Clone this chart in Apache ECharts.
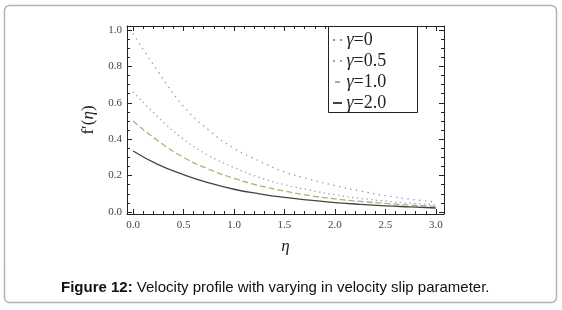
<!DOCTYPE html>
<html>
<head>
<meta charset="utf-8">
<script src="https://cdn.jsdelivr.net/npm/echarts@6/dist/echarts.min.js"></script>
<style>
    html, body { margin: 0; padding: 0; background: #fff; }
    #main { width: 562px; height: 310px; }
</style>
</head>
<body>
<div id="main"></div>
<script>
// 横坐标 η
var eta = [0, 0.25, 0.5, 0.75, 1.0, 1.25, 1.5, 1.75, 2.0, 2.25, 2.5, 2.75, 3.0];
// 各条曲线 f'(η)，从图上读出来的
var gamma0 = [0.98, 0.77, 0.58, 0.45, 0.35, 0.28, 0.22, 0.18, 0.145, 0.115, 0.09, 0.07, 0.055];
var gamma05 = [0.66, 0.52, 0.40, 0.31, 0.245, 0.19, 0.15, 0.12, 0.095, 0.075, 0.06, 0.048, 0.04];
var gamma10 = [0.50, 0.39, 0.30, 0.235, 0.185, 0.145, 0.115, 0.09, 0.072, 0.058, 0.047, 0.038, 0.03];
var gamma20 = [0.335, 0.26, 0.205, 0.16, 0.125, 0.10, 0.08, 0.065, 0.052, 0.042, 0.034, 0.028, 0.022];
var legendNames = ['γ=0', 'γ=0.5', 'γ=1.0', 'γ=2.0'];
// 刻度
var xTicks = [0, 0.5, 1.0, 1.5, 2.0, 2.5, 3.0];
var yTicks = [0, 0.2, 0.4, 0.6, 0.8, 1.0];
var xMinorStep = 0.1;
var yMinorStep = 0.05;

var myChart = echarts.init(document.getElementById('main'));

/**
 * [在主刻度之间生成次刻度]
 * @param ticks 主刻度
 * @param step  次刻度间隔
 */
function minorTicks(ticks, step) {
    let out = [];
    for (let i = 0; i < ticks.length - 1; i++) {
        let v = ticks[i] + step;
        while (v < ticks[i + 1] - step / 2) {
            out.push(Math.round(v * 1000) / 1000);
            v += step;
        }
    }
    return out;
}

function pairs(ys) {
    let d = [];
    for (let i = 0; i < eta.length; i++) {
        d.push([eta[i], ys[i]]);
    }
    return d;
}

var xMin = -0.06, xMax = 3.08;
var yMin = -0.011, yMax = 1.022;
var tickFont = { color: '#444', fontSize: 11, fontFamily: 'Liberation Serif' };

// 生成一根坐标轴（框的四条边分别画）
function makeAxis(isX, pos, values, len, withLabel, withLine, nameOpt) {
    let a = {
        type: 'value',
        position: pos,
        min: isX ? xMin : yMin,
        max: isX ? xMax : yMax,
        splitLine: { show: false },
        axisLine: { show: withLine, onZero: false, lineStyle: { color: '#222', width: 1 } },
        axisTick: { show: true, inside: true, length: len, customValues: values, lineStyle: { color: '#222' } },
        axisLabel: withLabel ? Object.assign({
            show: true, customValues: values, margin: isX ? 6 : 5,
            formatter: function (v) { return v.toFixed(1); }
        }, tickFont) : { show: false }
    };
    if (nameOpt) Object.assign(a, nameOpt);
    return a;
}

var xMinor = minorTicks(xTicks, xMinorStep);
var yMinor = minorTicks(yTicks, yMinorStep);

// 图例里的小线段图标
var iconDots = 'path://M0,0h2v2h-2z M7,0h2v2h-2z';
var iconDash = 'path://M3,0h5v2h-5z';
var iconSolid = 'path://M0,0h9v2h-9z';
var serif = 'Liberation Serif';

var option = {
    animation: false,
    grid: { left: 127, right: 118, top: 26, bottom: 96 },
    title: {
        text: '{b|Figure 12:} Velocity profile with varying in velocity slip parameter.',
        left: 56,
        top: 275,
        textStyle: {
            fontSize: 15, fontWeight: 'normal', color: '#111', fontFamily: 'Liberation Sans',
            rich: { b: { fontSize: 15, fontWeight: 'bold', color: '#111', fontFamily: 'Liberation Sans' } }
        }
    },
    xAxis: [
        makeAxis(true, 'bottom', xTicks, 5, true, true, {
            name: 'η', nameLocation: 'middle', nameGap: 24,
            nameTextStyle: { fontFamily: serif, fontStyle: 'italic', fontSize: 17, color: '#222' }
        }),
        makeAxis(true, 'bottom', xMinor, 3, false, false),
        makeAxis(true, 'top', xTicks, 5, false, true),
        makeAxis(true, 'top', xMinor, 3, false, false)
    ],
    yAxis: [
        makeAxis(false, 'left', yTicks, 5, true, true, {
            name: 'f′({i|η})', nameLocation: 'middle', nameGap: 25, nameRotate: 90,
            nameTextStyle: {
                fontFamily: serif, fontSize: 17, color: '#222',
                rich: { i: { fontFamily: serif, fontStyle: 'italic', fontSize: 17, color: '#222' } }
            }
        }),
        makeAxis(false, 'left', yMinor, 3, false, false),
        makeAxis(false, 'right', yTicks, 5, false, true),
        makeAxis(false, 'right', yMinor, 3, false, false)
    ],
    legend: {
        orient: 'vertical',
        left: 328,
        top: 26,
        itemWidth: 10,
        itemHeight: 2,
        itemGap: 3,
        z: 10,
        data: [
            { name: legendNames[0], icon: iconDots },
            { name: legendNames[1], icon: iconDots },
            { name: legendNames[2], icon: iconDash },
            { name: legendNames[3], icon: iconSolid }
        ],
        // γ 用斜体
        formatter: function (name) {
            return '{g|γ}' + name.slice(1);
        },
        textStyle: {
            fontFamily: serif, fontSize: 18, color: '#222', lineHeight: 18, padding: [0, 0, 0, -1],
            rich: { g: { fontFamily: serif, fontStyle: 'italic', fontSize: 18, color: '#222', lineHeight: 18 } }
        }
    },
    graphic: [
        {
            // 外框
            type: 'rect', silent: true, z: 0,
            shape: { x: 4.5, y: 5.5, width: 552, height: 297, r: 5 },
            style: { fill: 'none', stroke: '#b4b4b4', lineWidth: 1.5 }
        },
        {
            // 图例框
            type: 'rect', silent: true, z: 5,
            shape: { x: 328.5, y: 26.5, width: 89, height: 86 },
            style: { fill: '#fff', stroke: '#222', lineWidth: 1 }
        }
    ],
    series: [
        {
            name: legendNames[0], type: 'line', data: pairs(gamma0), smooth: true, symbol: 'none',
            lineStyle: { color: '#958db0', width: 1.3, type: [1.3, 4.5] }, itemStyle: { color: '#958db0' }
        },
        {
            name: legendNames[1], type: 'line', data: pairs(gamma05), smooth: true, symbol: 'none',
            lineStyle: { color: '#a29ab6', width: 1.3, type: [1.3, 3.5] }, itemStyle: { color: '#a29ab6' }
        },
        {
            name: legendNames[2], type: 'line', data: pairs(gamma10), smooth: true, symbol: 'none',
            lineStyle: { color: '#b9ab7c', width: 1.3, type: [6, 3] }, itemStyle: { color: '#b9ab7c' }
        },
        {
            name: legendNames[3], type: 'line', data: pairs(gamma20), smooth: true, symbol: 'none',
            lineStyle: { color: '#444', width: 1.3 }, itemStyle: { color: '#444' }
        }
    ]
};

myChart.setOption(option);
</script>
</body>
</html>
